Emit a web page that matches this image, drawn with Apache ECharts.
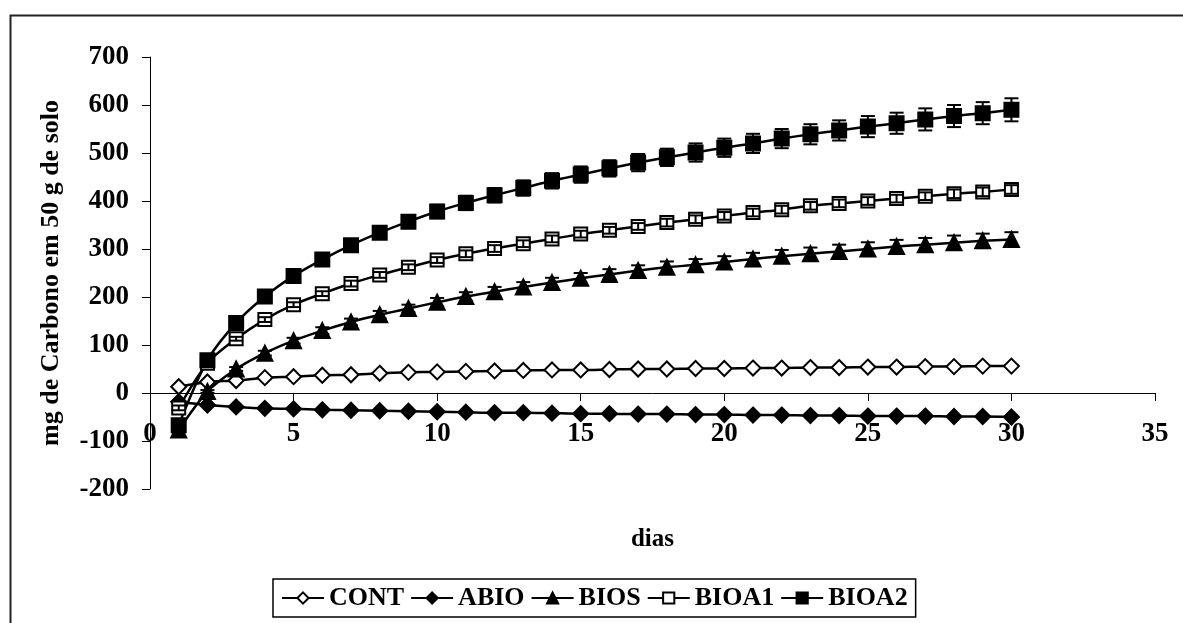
<!DOCTYPE html>
<html>
<head>
<meta charset="utf-8">
<script src="https://cdn.jsdelivr.net/npm/echarts@6/dist/echarts.min.js"></script>
<style>
html,body{margin:0;padding:0;background:#fff;}
#chart{width:1183px;height:623px;}
</style>
</head>
<body>
<div id="chart"></div>
<script>
const days = [1,2,3,4,5,6,7,8,9,10,11,12,13,14,15,16,17,18,19,20,21,22,23,24,25,26,27,28,29,30];
const CONT = [13,23,26,32,34,37,38,41,43,44,45,46,47,48,48,49,50,50,51,51,52,52,53,53,54,54,55,55,56,56];
const ABIO = [-18,-25,-29,-32,-33,-35,-36,-37,-38,-39,-40,-41,-41,-42,-43,-43,-44,-44,-45,-45,-46,-46,-47,-47,-48,-48,-48,-49,-49,-50];
const BIOS = [-77,3,50,83,109,130,148,163,176,189,201,211,221,230,239,247,255,262,267,273,279,285,290,295,300,305,309,313,317,320];
const BIOA1 = [-31,62,113,153,184,207,228,246,262,277,290,301,311,321,331,339,347,355,362,369,376,382,390,395,400,405,410,415,419,424];
const BIOA2 = [-67,68,146,201,244,278,308,334,357,378,396,412,427,442,455,468,480,491,501,511,520,530,539,547,555,562,570,577,583,590];
const BIOS_err = [5,3,4,5,6,7,7,8,8,9,9,10,10,10,11,11,11,12,12,12,13,13,13,14,14,14,14,15,15,15];
const BIOA1_err = [5,4,4,5,5,5,6,6,6,6,7,7,7,7,7,7,7,8,8,8,8,8,8,8,8,8,8,9,9,9];
const BIOA2_err = [8,6,7,8,9,10,11,12,13,14,15,15,16,16,17,17,18,18,19,19,20,20,21,21,22,22,23,23,23,24];
const seriesNames = ['CONT','ABIO','BIOS','BIOA1','BIOA2'];
const xTitle = 'dias';
const yTitle = 'mg de Carbono em 50 g de solo';

const FONT = "'Liberation Serif','Times New Roman',serif";
const chart = echarts.init(document.getElementById('chart'), null, {renderer:'canvas'});

function pts(vals){ return days.map((d,i)=>[d, vals[i]]); }
function errPts(vals, errs){ return days.map((d,i)=>[d, vals[i], errs[i]]); }

function lineSeries(name, vals, symbol, size, filled){
  return {
    name: name, type:'line', data: pts(vals), smooth: 0.3,
    symbol: symbol, symbolSize: size, showAllSymbol: true,
    lineStyle:{color:'#000', width:2.5},
    itemStyle:{color: filled ? '#000' : '#fff', borderColor:'#000', borderWidth:2},
    emphasis:{disabled:true}, z:2
  };
}
function errSeries(vals, errs){
  return {
    type:'custom', silent:true, z:3,
    data: errPts(vals, errs),
    encode:{x:0, y:1},
    renderItem: function(params, api){
      const x = api.value(0), y = api.value(1), e = api.value(2);
      const t = api.coord([x, y + e]), b = api.coord([x, y - e]);
      const hw = 7;
      const st = {stroke:'#000', lineWidth:2};
      return {type:'group', children:[
        {type:'line', shape:{x1:t[0], y1:t[1], x2:b[0], y2:b[1]}, style:st},
        {type:'line', shape:{x1:t[0]-hw, y1:t[1], x2:t[0]+hw, y2:t[1]}, style:st},
        {type:'line', shape:{x1:b[0]-hw, y1:b[1], x2:b[0]+hw, y2:b[1]}, style:st}
      ]};
    }
  };
}

const option = {
  backgroundColor:'#fff',
  animation:false,
  textStyle:{fontFamily:FONT},
  grid:{left:150, right:28, top:57, bottom:134, containLabel:false, outerBoundsMode:'none'},
  graphic:[
    {type:'rect', left:8, top:13, shape:{x:0,y:0,width:1200,height:640}, style:{fill:'none', stroke:'#222', lineWidth:2}, silent:true}
  ],
  xAxis:{
    type:'value', min:0, max:35, interval:5,
    name: xTitle, nameLocation:'middle', nameGap:134,
    nameTextStyle:{fontFamily:FONT, fontWeight:'bold', fontSize:25, color:'#000'},
    axisLine:{show:true, onZero:false, lineStyle:{color:'#000', width:1}},
    axisTick:{show:true, inside:false, length:8, lineStyle:{color:'#000'}},
    axisLabel:{margin:28, fontFamily:FONT, fontWeight:'bold', fontSize:27, color:'#000', showMinLabel:true, showMaxLabel:true},
    splitLine:{show:false}
  },
  yAxis:{
    type:'value', min:-200, max:700, interval:100,
    name: yTitle, nameLocation:'middle', nameGap:86, nameRotate:90,
    nameTextStyle:{fontFamily:FONT, fontWeight:'bold', fontSize:26, color:'#000'},
    axisLine:{show:true, onZero:false, lineStyle:{color:'#000', width:1}},
    axisTick:{show:true, inside:false, length:8, lineStyle:{color:'#000'}},
    axisLabel:{margin:21, fontFamily:FONT, fontWeight:'bold', fontSize:27, color:'#000'},
    splitLine:{show:false}
  },
  legend:{
    data: seriesNames, left:273, top:579, orient:'horizontal',
    padding:[6,8], itemGap:6, itemWidth:42, itemHeight:14,
    borderColor:'#000', borderWidth:1.5,
    textStyle:{fontFamily:FONT, fontWeight:'bold', fontSize:26, color:'#000'},
    selectedMode:false
  },
  series:[
    lineSeries('CONT', CONT, 'diamond', 15, false),
    lineSeries('ABIO', ABIO, 'diamond', 15, true),
    lineSeries('BIOS', BIOS, 'triangle', 15, true),
    lineSeries('BIOA1', BIOA1, 'rect', 13, false),
    lineSeries('BIOA2', BIOA2, 'rect', 14, true),
    errSeries(BIOS, BIOS_err),
    errSeries(BIOA1, BIOA1_err),
    errSeries(BIOA2, BIOA2_err)
  ]
};
chart.setOption(option);
// place the x axis (line, ticks, labels) on the zero line, as in the reference
const yZero = chart.convertToPixel({yAxisIndex:0}, 0);
const yMinPx = chart.convertToPixel({yAxisIndex:0}, -200);
chart.setOption({xAxis:{offset: yZero - yMinPx}});
</script>
</body>
</html>
